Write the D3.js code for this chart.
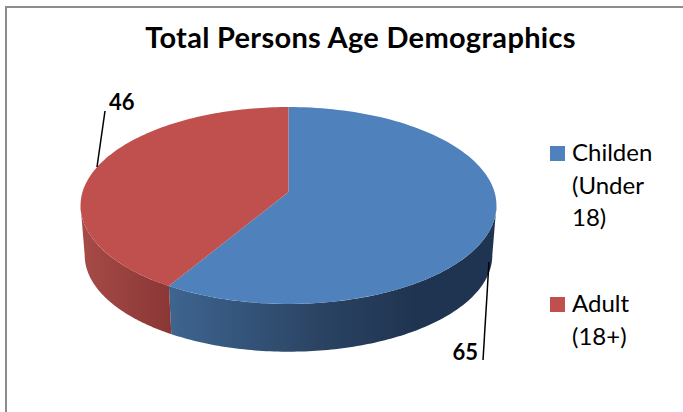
<!DOCTYPE html>
<html>
<head>
<meta charset="utf-8">
<script src="https://cdn.jsdelivr.net/npm/d3@7"></script>
<style>
  html, body { margin: 0; padding: 0; background: #fff; }
  text { font-family: Lato, "Open Sans", sans-serif; fill: #000; }
</style>
</head>
<body>
<svg id="chart" width="683" height="412"></svg>
<script>
const title = 'Total Persons Age Demographics';
const categories = ['Children', 'Adult'];
const legendLines = [['Childen', '(Under', '18)'], ['Adult', '(18+)']];
const values = [65, 46];
const topColors = ['#4f81bd', '#c0504d'];

const width = 683, height = 412;
const cx = 288.5, cy = 192;        // where the pie centre lands on screen
const rx = 206, ry = 96.6;
const tilt = -0.137;               // perspective: near edge looks bigger
const depth = 50, bottomScale = 0.98;

const svg = d3.select('#chart');

// frame: left and top edges only reach the window
svg.append('path')
  .attr('d', `M6,${height}V7H${width}`)
  .attr('fill', 'none')
  .attr('stroke', '#8c8c8c')
  .attr('stroke-width', 2);

svg.append('text')
  .attr('x', 360.5).attr('y', 48)
  .attr('text-anchor', 'middle')
  .attr('font-size', 29).attr('font-weight', 700)
  .attr('letter-spacing', 0.3)
  .text(title);

const arcs = d3.pie().sort(null)(values);

// disc angle (clockwise from top) to screen
const project = (a, lower) => {
  const u = Math.sin(a), v = -Math.cos(a);
  const w = 1 + tilt * v;
  const x = rx * u / w, y = ry * v / w;
  return lower
    ? [cx + bottomScale * x, cy + depth + bottomScale * y]
    : [cx + x, cy + y];
};

const rim = (a0, a1, lower) => d3.range(0, 121).map(i => project(a0 + (a1 - a0) * i / 120, lower));
const line = d3.line();

// only the near part of the wall shows, between the widest points of the disc
const nearFrom = Math.acos(tilt), nearTo = 2 * Math.PI - nearFrom;
const wall = d => {
  const a0 = Math.max(d.startAngle, nearFrom), a1 = Math.min(d.endAngle, nearTo);
  return line(rim(a0, a1, false).concat(rim(a1, a0, true))) + 'Z';
};

const sideStops = [
  [['0', '#3e6590'], ['0.45', '#2b4464'], ['0.75', '#1f3450'], ['1', '#1f3450']],
  [['0', '#a64b48'], ['1', '#8a3735']]
];
const sideExtent = [[168, 497], [81, 170]];

const defs = svg.append('defs');
sideStops.forEach((stops, i) => {
  defs.append('linearGradient')
    .attr('id', `side${i}`)
    .attr('gradientUnits', 'userSpaceOnUse')
    .attr('x1', sideExtent[i][0]).attr('x2', sideExtent[i][1])
    .attr('y1', 0).attr('y2', 0)
    .selectAll('stop').data(stops).join('stop')
      .attr('offset', d => d[0])
      .attr('stop-color', d => d[1]);
});

svg.append('g').selectAll('path')
  .data(arcs)
  .join('path')
    .attr('fill', (d, i) => `url(#side${i})`)
    .attr('d', wall);

svg.append('g').selectAll('path')
  .data(arcs)
  .join('path')
    .attr('fill', (d, i) => topColors[i])
    .attr('d', d => line([[cx, cy]].concat(rim(d.startAngle, d.endAngle, false))) + 'Z');

// leader lines and data labels
const leaders = [
  { from: [489, 262], to: [483, 360], x: 478, y: 360, anchor: 'end' },
  { from: [97, 167], to: [105, 111], x: 109, y: 110, anchor: 'start' }
];
svg.append('g').selectAll('path')
  .data(leaders)
  .join('path')
    .attr('d', d => line([d.from, d.to]))
    .attr('stroke', '#000').attr('stroke-width', 1.5).attr('fill', 'none');

svg.append('g').selectAll('text')
  .data(leaders)
  .join('text')
    .attr('x', d => d.x).attr('y', d => d.y)
    .attr('text-anchor', d => d.anchor)
    .attr('font-size', 22).attr('font-weight', 700)
    .text((d, i) => values[i]);

// legend
const legendTop = [146, 297];
const legend = svg.append('g').selectAll('g')
  .data(categories)
  .join('g');
legend.append('rect')
  .attr('x', 550).attr('y', (d, i) => legendTop[i])
  .attr('width', 15).attr('height', 15)
  .attr('fill', (d, i) => topColors[i]);
legend.selectAll('text')
  .data((d, i) => legendLines[i].map((t, j) => ({ t, y: legendTop[i] + 15 + j * 32.5 })))
  .join('text')
    .attr('x', 572).attr('y', d => d.y)
    .attr('font-size', 24)
    .text(d => d.t);
</script>
</body>
</html>
